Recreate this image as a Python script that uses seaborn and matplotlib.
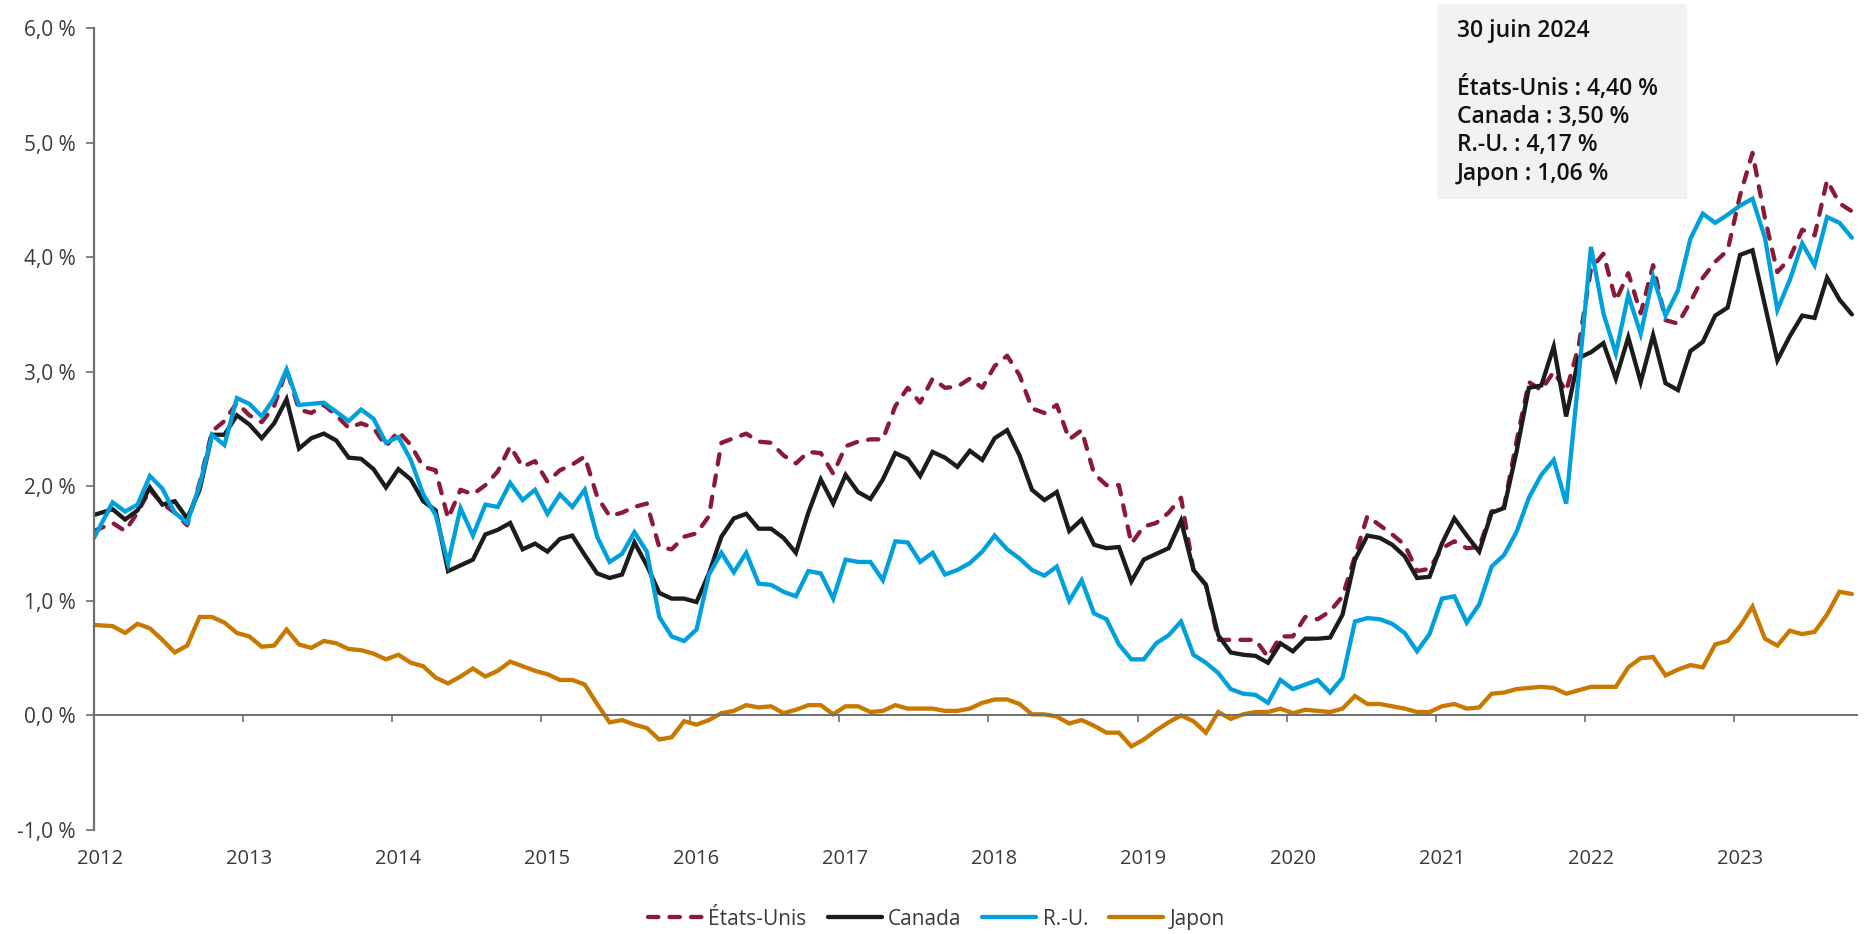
import numpy as np
import seaborn as sns
import matplotlib.pyplot as plt
from matplotlib.patches import Rectangle
from matplotlib.transforms import ScaledTranslation

# monthly readings, Jan 2012 onwards
us = [1.61, 1.68, 1.61, 1.77, 1.97, 1.85, 1.77, 1.66, 2.03, 2.48, 2.57, 2.73, 2.62, 2.56, 2.70, 3.02, 2.67, 2.64, 2.71, 2.62,
      2.51, 2.55, 2.51, 2.35, 2.48, 2.36, 2.17, 2.14, 1.72, 1.97, 1.93, 2.01, 2.13, 2.35, 2.17, 2.22, 2.04, 2.14, 2.19, 2.26,
      1.91, 1.74, 1.77, 1.82, 1.85, 1.47, 1.45, 1.56, 1.59, 1.74, 2.38, 2.42, 2.46, 2.39, 2.38, 2.27, 2.20, 2.30, 2.29, 2.11,
      2.35, 2.39, 2.41, 2.41, 2.70, 2.86, 2.73, 2.94, 2.86, 2.87, 2.94, 2.86, 3.05, 3.14, 2.97, 2.68, 2.64, 2.71, 2.41, 2.49,
      2.11, 2.01, 2.01, 1.50, 1.65, 1.68, 1.77, 1.90, 1.27, 1.14, 0.66, 0.66, 0.66, 0.66, 0.51, 0.69, 0.69, 0.86, 0.84, 0.91,
      1.04, 1.39, 1.74, 1.66, 1.58, 1.49, 1.26, 1.28, 1.46, 1.52, 1.46, 1.47, 1.78, 1.82, 2.39, 2.91, 2.84, 3.00, 2.83, 3.22,
      3.90, 4.03, 3.62, 3.86, 3.51, 3.93, 3.45, 3.42, 3.61, 3.82, 3.96, 4.06, 4.54, 4.91, 4.34, 3.87, 3.99, 4.24, 4.19, 4.67,
      4.47, 4.40]
canada = [1.75, 1.80, 1.71, 1.79, 1.99, 1.84, 1.87, 1.72, 1.97, 2.45, 2.45, 2.62, 2.54, 2.42, 2.55, 2.76, 2.33, 2.42, 2.46, 2.40,
          2.25, 2.24, 2.15, 1.99, 2.15, 2.06, 1.87, 1.79, 1.26, 1.31, 1.36, 1.58, 1.62, 1.68, 1.45, 1.50, 1.43, 1.54, 1.57, 1.40,
          1.24, 1.20, 1.23, 1.51, 1.31, 1.07, 1.02, 1.02, 0.99, 1.24, 1.56, 1.72, 1.76, 1.63, 1.63, 1.55, 1.42, 1.77, 2.06, 1.85,
          2.10, 1.95, 1.89, 2.06, 2.29, 2.24, 2.09, 2.30, 2.25, 2.17, 2.31, 2.23, 2.42, 2.49, 2.27, 1.97, 1.88, 1.95, 1.61, 1.71,
          1.49, 1.46, 1.47, 1.17, 1.36, 1.41, 1.46, 1.70, 1.27, 1.14, 0.70, 0.55, 0.53, 0.52, 0.46, 0.63, 0.56, 0.67, 0.67, 0.68,
          0.88, 1.36, 1.57, 1.55, 1.49, 1.39, 1.20, 1.21, 1.50, 1.72, 1.57, 1.43, 1.77, 1.81, 2.30, 2.86, 2.88, 3.22, 2.61, 3.12,
          3.17, 3.25, 2.94, 3.30, 2.91, 3.32, 2.90, 2.84, 3.18, 3.26, 3.49, 3.56, 4.02, 4.06, 3.58, 3.10, 3.31, 3.49, 3.47, 3.82,
          3.63, 3.50]
uk = [1.55, 1.86, 1.78, 1.84, 2.09, 1.98, 1.77, 1.68, 2.01, 2.45, 2.36, 2.77, 2.72, 2.61, 2.77, 3.02, 2.71, 2.72, 2.73, 2.65,
      2.57, 2.67, 2.59, 2.38, 2.43, 2.23, 1.93, 1.75, 1.33, 1.81, 1.57, 1.84, 1.82, 2.03, 1.88, 1.97, 1.76, 1.93, 1.82, 1.97,
      1.56, 1.34, 1.41, 1.60, 1.43, 0.86, 0.69, 0.65, 0.75, 1.23, 1.42, 1.25, 1.42, 1.15, 1.14, 1.08, 1.04, 1.26, 1.24, 1.02,
      1.36, 1.34, 1.34, 1.18, 1.52, 1.51, 1.34, 1.42, 1.23, 1.27, 1.33, 1.43, 1.57, 1.45, 1.37, 1.27, 1.22, 1.30, 1.00, 1.18,
      0.89, 0.84, 0.62, 0.49, 0.49, 0.63, 0.70, 0.82, 0.53, 0.46, 0.37, 0.23, 0.19, 0.18, 0.11, 0.31, 0.23, 0.27, 0.31, 0.20,
      0.33, 0.82, 0.85, 0.84, 0.80, 0.72, 0.56, 0.71, 1.02, 1.04, 0.81, 0.97, 1.30, 1.40, 1.60, 1.90, 2.10, 2.23, 1.85, 2.95,
      4.09, 3.51, 3.16, 3.67, 3.33, 3.83, 3.49, 3.71, 4.16, 4.38, 4.30, 4.37, 4.45, 4.51, 4.17, 3.54, 3.80, 4.12, 3.93, 4.35,
      4.30, 4.17]
japan = [0.79, 0.78, 0.72, 0.80, 0.76, 0.66, 0.55, 0.61, 0.86, 0.86, 0.81, 0.72, 0.69, 0.60, 0.61, 0.75, 0.62, 0.59, 0.65, 0.63,
         0.58, 0.57, 0.54, 0.49, 0.53, 0.46, 0.43, 0.33, 0.28, 0.34, 0.41, 0.34, 0.39, 0.47, 0.43, 0.39, 0.36, 0.31, 0.31, 0.27,
         0.10, -0.06, -0.04, -0.08, -0.11, -0.21, -0.19, -0.05, -0.08, -0.04, 0.02, 0.04, 0.09, 0.07, 0.08, 0.02, 0.05, 0.09, 0.09, 0.01,
         0.08, 0.08, 0.03, 0.04, 0.09, 0.06, 0.06, 0.06, 0.04, 0.04, 0.06, 0.11, 0.14, 0.14, 0.10, 0.01, 0.01, -0.01, -0.07, -0.04,
         -0.09, -0.15, -0.15, -0.27, -0.21, -0.13, -0.06, 0.00, -0.05, -0.15, 0.03, -0.03, 0.01, 0.03, 0.03, 0.06, 0.02, 0.05, 0.04, 0.03,
         0.06, 0.17, 0.10, 0.10, 0.08, 0.06, 0.03, 0.03, 0.08, 0.10, 0.06, 0.07, 0.19, 0.20, 0.23, 0.24, 0.25, 0.24, 0.19, 0.22,
         0.25, 0.25, 0.25, 0.42, 0.50, 0.51, 0.35, 0.40, 0.44, 0.42, 0.62, 0.65, 0.78, 0.95, 0.67, 0.61, 0.74, 0.71, 0.73, 0.88,
         1.08, 1.06]

names = ['États-Unis', 'Canada', 'R.-U.', 'Japon']
colors = ['#8b1a38', '#1c1c1c', '#00a0dc', '#c97800']
years = list(range(2012, 2024))
yticks = [-1, 0, 1, 2, 3, 4, 5, 6]
box_title = '30 juin 2024'
box_lines = ['États-Unis : 4,40 %', 'Canada : 3,50 %', 'R.-U. : 4,17 %', 'Japon : 1,06 %']

sns.set_style('white')
plt.rcParams['font.family'] = ['Open Sans', 'DejaVu Sans']

# readings sit mid-month, the first one on the axis
month = np.arange(len(us)) + 0.5
month[0] = 0

fig = plt.figure(figsize=(18.69, 9.34), dpi=100)
ax = fig.add_axes([0.0503, 0.1113, 0.9432, 0.8587])

for name, vals, col in zip(names, [us, canada, uk, japan], colors):
    sns.lineplot(x=month, y=vals, ax=ax, color=col, linewidth=3.1, label=name)
    line = ax.get_lines()[-1]
    line.set_solid_joinstyle('miter')
    if name == 'États-Unis':
        line.set_dashes((2.4, 2.6))
        line.set_dash_capstyle('round')

ax.set_xlim(0, 141.9)
ax.set_ylim(-1, 6)
ax.set_xlabel('')
ax.set_ylabel('')

ax.set_yticks(yticks)
ax.set_yticklabels([f'{v:.1f}'.replace('.', ',') + ' %' for v in yticks])
ax.set_xticks([12 * i for i in range(len(years))])
ax.set_xticklabels([str(y) for y in years])

for s in ['top', 'right']:
    ax.spines[s].set_visible(False)
ax.spines['bottom'].set_position(('data', 0))
ax.spines['bottom'].set_color('#6e6e6e')
ax.spines['bottom'].set_linewidth(1.4)
ax.spines['left'].set_color('#6e6e6e')
ax.spines['left'].set_linewidth(1.6)

ax.tick_params(axis='y', direction='out', length=6, width=1.2, color='#6e6e6e',
               pad=7, labelsize=15, labelcolor='#3a3a3a', left=True)
ax.tick_params(axis='x', direction='out', length=5, width=1.2, color='#6e6e6e',
               pad=91, labelsize=14.5, labelcolor='#3a3a3a', bottom=True)
for lab in ax.get_xticklabels():
    lab.set_transform(lab.get_transform() + ScaledTranslation(0.06, 0, fig.dpi_scale_trans))

ax.get_legend().remove()
handles = ax.get_lines()[:4]
fig.legend(handles, names, loc='center', bbox_to_anchor=(0.501, 0.016), ncol=4, frameon=False,
           fontsize=15, handlelength=2.6, handletextpad=0.3, columnspacing=1.0, labelcolor='#3a3a3a')

# date box top right
fig.patches.append(Rectangle((1437 / 1869, 1 - 199 / 934), 250 / 1869, 195 / 934,
                             transform=fig.transFigure, facecolor='#f2f2f2', edgecolor='none', zorder=0))
fig.text(1457 / 1869, 1 - 31 / 934, box_title, fontsize=16.5, fontweight='semibold', va='center', color='#111111')
for i, txt in enumerate(box_lines):
    fig.text(1457 / 1869, 1 - (88 + 28.5 * i) / 934, txt, fontsize=16.5, fontweight='semibold',
             va='center', color='#111111')

fig.savefig('out.png', dpi=100)
